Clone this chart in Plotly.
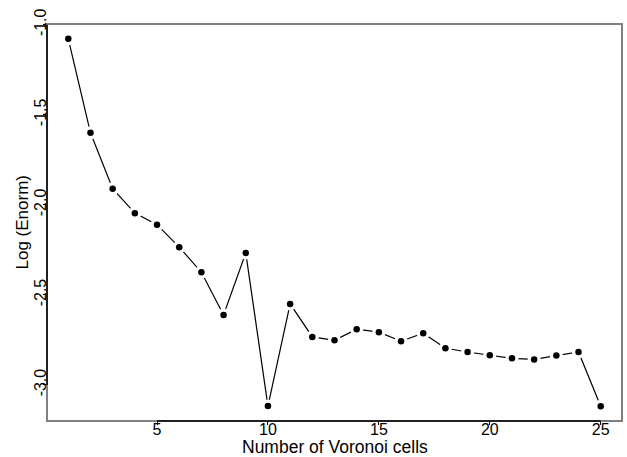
import plotly.graph_objects as go

cells = list(range(1, 26))
log_enorm = [-1.078, -1.60, -1.91, -2.046, -2.11, -2.235, -2.374, -2.611, -2.267,
             -3.117, -2.55, -2.733, -2.752, -2.69, -2.707, -2.757, -2.713, -2.796,
             -2.817, -2.835, -2.852, -2.858, -2.837, -2.817, -3.118]

x_ticks = [5, 10, 15, 20, 25]
y_ticks = [-3.0, -2.5, -2.0, -1.5, -1.0]
y_tick_labels = ["-3.0", "-2.5", "-2.0", "-1.5", "-1.0"]
x_title = "Number of Voronoi cells"
y_title = "Log (Enorm)"

FONT = "Liberation Sans, Arial, Helvetica, sans-serif"
W, H = 627, 457
ML, MR, MT, MB = 47, 5, 24, 36
PW, PH = W - ML - MR, H - MT - MB

fig = go.Figure()
fig.add_trace(go.Scatter(x=cells, y=log_enorm, mode="lines",
                         line=dict(color="black", width=1.2), hoverinfo="skip"))
fig.add_trace(go.Scatter(x=cells, y=log_enorm, mode="markers",
                         marker=dict(color="white", size=13, line=dict(width=0)),
                         hoverinfo="skip"))
fig.add_trace(go.Scatter(x=cells, y=log_enorm, mode="markers",
                         marker=dict(color="black", size=6.5, line=dict(width=0))))

fig.add_shape(type="rect", xref="paper", yref="paper", x0=0, x1=1, y0=0, y1=1,
              line=dict(color="#808080", width=2))
fig.add_shape(type="line", xref="x", yref="paper", x0=x_ticks[0], x1=x_ticks[-1],
              y0=0, y1=0, line=dict(color="black", width=1.5))
fig.add_shape(type="line", xref="paper", yref="y", x0=0, x1=0,
              y0=y_ticks[0], y1=y_ticks[-1], line=dict(color="black", width=1.5))

fig.add_annotation(text=x_title, xref="paper", yref="paper", x=0.5,
                   y=-(447 - (H - MB)) / PH, xanchor="center", yanchor="middle",
                   showarrow=False, font=dict(size=17.5))
fig.add_annotation(text=y_title, xref="paper", yref="paper", x=(22 - ML) / PW,
                   y=0.5, xanchor="center", yanchor="middle", textangle=-90,
                   showarrow=False, font=dict(size=17))

fig.update_layout(
    width=W, height=H,
    margin=dict(l=ML, r=MR, t=MT, b=MB),
    paper_bgcolor="white", plot_bgcolor="white",
    showlegend=False,
    font=dict(family=FONT, color="black", size=16),
    xaxis=dict(range=[0.04, 25.96], tickvals=x_ticks, showgrid=False, zeroline=False,
               showline=False, ticks="outside", ticklen=3, tickcolor="black",
               tickfont=dict(size=16), automargin=False, ticklabelstandoff=-9),
    yaxis=dict(range=[-3.2, -0.996], tickvals=y_ticks, ticktext=y_tick_labels,
               showgrid=False, zeroline=False, showline=False, ticks="outside",
               ticklen=3, tickcolor="black", tickangle=-90, tickfont=dict(size=16),
               automargin=False, ticklabelstandoff=-9),
)

fig.write_html("out.html", config={"displayModeBar": False},
               post_script="document.body.style.margin='0';")
